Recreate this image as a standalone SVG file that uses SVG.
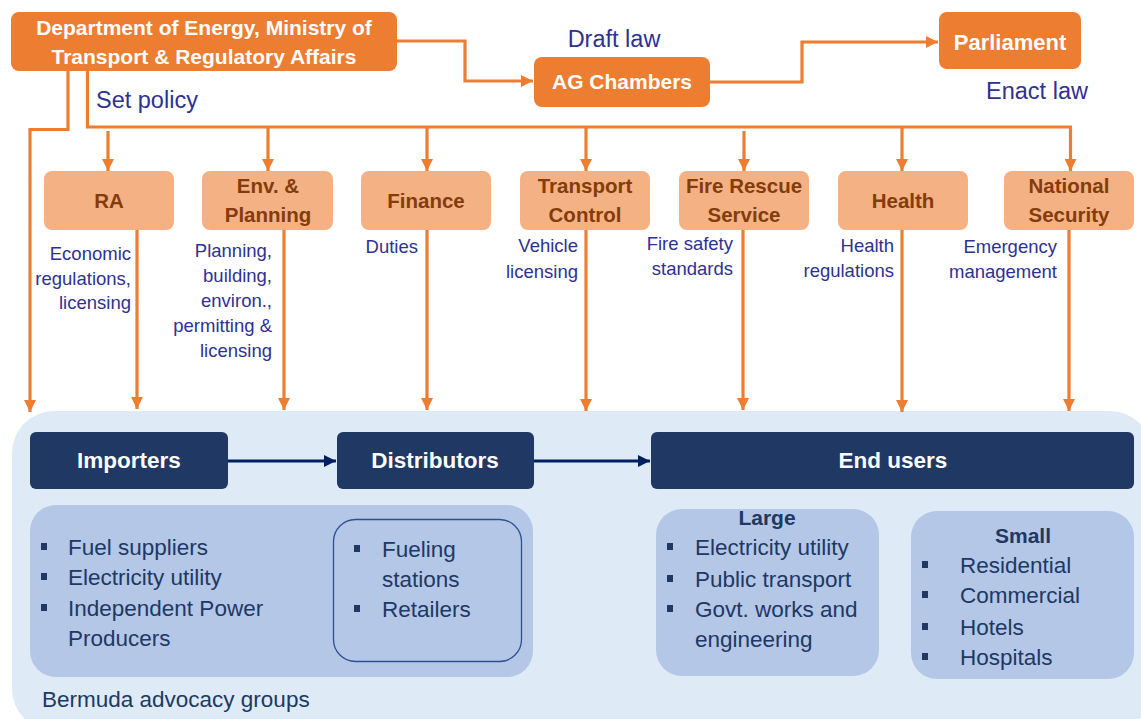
<svg xmlns="http://www.w3.org/2000/svg" width="1141" height="719" viewBox="0 0 1141 719">
<defs>
<marker id="ao" viewBox="0 0 10 10" refX="10" refY="5" markerWidth="12" markerHeight="12" markerUnits="userSpaceOnUse" orient="auto">
<path d="M0,0 L10,5 L0,10 z" fill="#ED7D31"/>
</marker>
<marker id="an" viewBox="0 0 10 10" refX="10" refY="5" markerWidth="12" markerHeight="12" markerUnits="userSpaceOnUse" orient="auto">
<path d="M0,0 L10,5 L0,10 z" fill="#002060"/>
</marker>
</defs>
<style>
text{font-family:"Liberation Sans",Arial,sans-serif}
.top{fill:#ED7D31}
.topt{fill:#fff;font-weight:bold;font-size:21px;text-anchor:middle}
.mid{fill:#F4B183}
.midt{fill:#843C0C;font-weight:bold;font-size:20.5px;text-anchor:middle}
.lbl{fill:#2E3192;font-size:18.5px;text-anchor:end}
.big{fill:#2E3192;font-size:23.5px}
.dk{fill:#203864}
.dkt{fill:#fff;font-weight:bold;font-size:22.5px;text-anchor:middle}
.sub{fill:#B4C7E7}
.st{fill:#203864;font-size:22.5px}
.sh{fill:#203864;font-size:21px;font-weight:bold;text-anchor:middle}
.ol{fill:none;stroke:#ED7D31;stroke-width:3.2}
.nl{fill:none;stroke:#002060;stroke-width:3}
</style>
<rect x="12" y="411" width="1140" height="320" rx="42" fill="#DEEBF7"/>
<g id="connectors">
<path class="ol" d="M397,41 H465 V81 H533" marker-end="url(#ao)"/>
<path class="ol" d="M710,82 H802 V42 H938" marker-end="url(#ao)"/>
<path class="ol" d="M68,71 V129.5 H30 V412" marker-end="url(#ao)"/>
<path class="ol" d="M87.5,71 V127 H1072"/>
<path class="ol" d="M108,131 V171" marker-end="url(#ao)"/>
<path class="ol" d="M268,127 V171" marker-end="url(#ao)"/>
<path class="ol" d="M427,127 V171" marker-end="url(#ao)"/>
<path class="ol" d="M586,127 V171" marker-end="url(#ao)"/>
<path class="ol" d="M744,131 V171" marker-end="url(#ao)"/>
<path class="ol" d="M902,127 V171" marker-end="url(#ao)"/>
<path class="ol" d="M1070.5,127 V171" marker-end="url(#ao)"/>
<path class="ol" d="M137,230 V409" marker-end="url(#ao)"/>
<path class="ol" d="M284,230 V410" marker-end="url(#ao)"/>
<path class="ol" d="M427,230 V410" marker-end="url(#ao)"/>
<path class="ol" d="M586,230 V411" marker-end="url(#ao)"/>
<path class="ol" d="M743,230 V410" marker-end="url(#ao)"/>
<path class="ol" d="M902,230 V412" marker-end="url(#ao)"/>
<path class="ol" d="M1069,230 V411" marker-end="url(#ao)"/>
<path class="nl" d="M228,461 H336" marker-end="url(#an)"/>
<path class="nl" d="M534,461 H650" marker-end="url(#an)"/>
</g>
<g id="dept">
<rect class="top" x="11" y="12" width="386" height="59" rx="8"/>
<text class="topt" x="204" y="35">Department  of Energy, Ministry of</text>
<text class="topt" x="204" y="64">Transport &amp; Regulatory Affairs</text>
</g>
<g id="ag">
<rect class="top" x="534" y="57" width="176" height="50" rx="8"/>
<text class="topt" x="622" y="89">AG Chambers</text>
</g>
<g id="parliament">
<rect class="top" x="939" y="12" width="142" height="57" rx="8"/>
<text class="topt" x="1010" y="50" style="font-size:22px">Parliament</text>
</g>
<text class="big" x="614" y="47" text-anchor="middle">Draft law</text>
<text class="big" x="1037" y="99" text-anchor="middle">Enact law</text>
<text class="big" x="96" y="108">Set policy</text>
<g id="ra">
<rect class="mid" x="44" y="171" width="130" height="59" rx="8"/>
<text class="midt" x="109" y="208">RA</text>
</g>
<g id="env">
<rect class="mid" x="202" y="171" width="131" height="59" rx="8"/>
<text class="midt" x="268" y="193">Env. &amp;</text>
<text class="midt" x="268" y="222">Planning</text>
</g>
<g id="finance">
<rect class="mid" x="361" y="171" width="130" height="59" rx="8"/>
<text class="midt" x="426" y="208">Finance</text>
</g>
<g id="transport">
<rect class="mid" x="520" y="171" width="130" height="59" rx="8"/>
<text class="midt" x="585" y="193">Transport</text>
<text class="midt" x="585" y="222">Control</text>
</g>
<g id="fire">
<rect class="mid" x="679" y="171" width="130" height="59" rx="8"/>
<text class="midt" x="744" y="193">Fire Rescue</text>
<text class="midt" x="744" y="222">Service</text>
</g>
<g id="health">
<rect class="mid" x="838" y="171" width="130" height="59" rx="8"/>
<text class="midt" x="903" y="208">Health</text>
</g>
<g id="security">
<rect class="mid" x="1004" y="171" width="130" height="59" rx="8"/>
<text class="midt" x="1069" y="193">National</text>
<text class="midt" x="1069" y="222">Security</text>
</g>
<g id="labels">
<text class="lbl" x="131" y="260">Economic</text>
<text class="lbl" x="131" y="285">regulations,</text>
<text class="lbl" x="131" y="309">licensing</text>
<text class="lbl" x="272" y="257">Planning,</text>
<text class="lbl" x="272" y="282">building,</text>
<text class="lbl" x="272" y="307">environ.,</text>
<text class="lbl" x="272" y="332">permitting &amp;</text>
<text class="lbl" x="272" y="357">licensing</text>
<text class="lbl" x="418" y="253">Duties</text>
<text class="lbl" x="578" y="252">Vehicle</text>
<text class="lbl" x="578" y="278">licensing</text>
<text class="lbl" x="733" y="250">Fire safety</text>
<text class="lbl" x="733" y="275">standards</text>
<text class="lbl" x="894" y="252">Health</text>
<text class="lbl" x="894" y="277">regulations</text>
<text class="lbl" x="1057" y="253">Emergency</text>
<text class="lbl" x="1057" y="278">management</text>
</g>
<g id="importers">
<rect class="dk" x="30" y="432" width="198" height="57" rx="6"/>
<text class="dkt" x="129" y="468">Importers</text>
</g>
<g id="distributors">
<rect class="dk" x="337" y="432" width="197" height="57" rx="6"/>
<text class="dkt" x="435" y="468">Distributors</text>
</g>
<g id="endusers">
<rect class="dk" x="651" y="432" width="483" height="57" rx="6"/>
<text class="dkt" x="893" y="468">End users</text>
</g>
<g id="importer-list">
<rect class="sub" x="30" y="505" width="503" height="172" rx="26"/>
<rect x="41" y="543" width="6" height="7" class="dk"/>
<rect x="41" y="573" width="6" height="7" class="dk"/>
<rect x="41" y="604" width="6" height="7" class="dk"/>
<text class="st" x="68" y="555">Fuel suppliers</text>
<text class="st" x="68" y="585">Electricity utility</text>
<text class="st" x="68" y="616">Independent Power</text>
<text class="st" x="68" y="646">Producers</text>
</g>
<g id="distributor-list">
<rect x="333.5" y="519.5" width="188" height="142" rx="22" fill="#B4C7E7" stroke="#2F4F8F" stroke-width="1.3"/>
<rect x="354" y="545" width="6" height="7" class="dk"/>
<rect x="354" y="605" width="6" height="7" class="dk"/>
<text class="st" x="382" y="557">Fueling</text>
<text class="st" x="382" y="587">stations</text>
<text class="st" x="382" y="617">Retailers</text>
</g>
<g id="large">
<rect class="sub" x="656" y="509" width="223" height="167" rx="26"/>
<text class="sh" x="767" y="525">Large</text>
<rect x="667" y="543" width="6" height="7" class="dk"/>
<rect x="667" y="575" width="6" height="7" class="dk"/>
<rect x="667" y="605" width="6" height="7" class="dk"/>
<text class="st" x="695" y="555">Electricity utility</text>
<text class="st" x="695" y="587">Public transport</text>
<text class="st" x="695" y="617">Govt. works and</text>
<text class="st" x="695" y="647">engineering</text>
</g>
<g id="small">
<rect class="sub" x="911" y="511" width="223" height="168" rx="26"/>
<text class="sh" x="1023" y="543">Small</text>
<rect x="922" y="561" width="6" height="7" class="dk"/>
<rect x="922" y="591" width="6" height="7" class="dk"/>
<rect x="922" y="623" width="6" height="7" class="dk"/>
<rect x="922" y="653" width="6" height="7" class="dk"/>
<text class="st" x="960" y="573">Residential</text>
<text class="st" x="960" y="603">Commercial</text>
<text class="st" x="960" y="635">Hotels</text>
<text class="st" x="960" y="665">Hospitals</text>
</g>
<text class="st" x="42" y="707">Bermuda advocacy groups</text>
</svg>
